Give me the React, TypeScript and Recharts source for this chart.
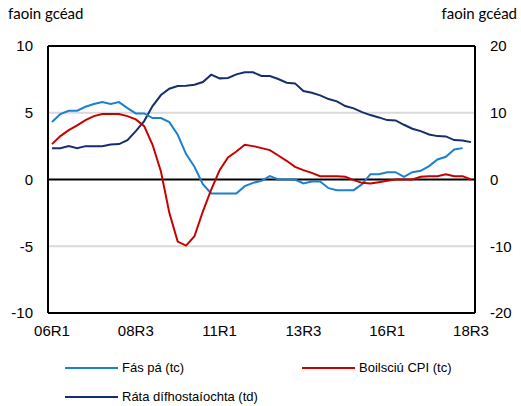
import { LineChart, Line, XAxis, YAxis, ReferenceLine } from 'recharts';

const quarters = [
    '06R1', '06R2', '06R3', '06R4', '07R1', '07R2', '07R3', '07R4',
    '08R1', '08R2', '08R3', '08R4', '09R1', '09R2', '09R3', '09R4',
    '10R1', '10R2', '10R3', '10R4', '11R1', '11R2', '11R3', '11R4',
    '12R1', '12R2', '12R3', '12R4', '13R1', '13R2', '13R3', '13R4',
    '14R1', '14R2', '14R3', '14R4', '15R1', '15R2', '15R3', '15R4',
    '16R1', '16R2', '16R3', '16R4', '17R1', '17R2', '17R3', '17R4',
    '18R1', '18R2', '18R3',
];

// Fás pá (tc) - left axis
const wageGrowth = [
    4.3, 4.9, 5.15, 5.15, 5.45, 5.65, 5.8, 5.65, 5.8, 5.35,
    4.95, 4.95, 4.6, 4.6, 4.3, 3.35, 1.9, 0.95, -0.35, -1.05,
    -1.05, -1.05, -1.05, -0.5, -0.25, -0.1, 0.25, 0, 0, 0,
    -0.3, -0.15, -0.15, -0.65, -0.8, -0.8, -0.8, -0.35, 0.4, 0.4,
    0.55, 0.55, 0.2, 0.55, 0.65, 1.0, 1.5, 1.7, 2.25, 2.35,
    null,
];

// Boilsciú CPI (tc) - left axis
const cpiInflation = [
    2.65, 3.25, 3.7, 4.05, 4.45, 4.75, 4.9, 4.9, 4.9, 4.75,
    4.5, 4.0, 2.6, 0.6, -2.5, -4.65, -4.95, -4.25, -2.4, -0.75,
    0.7, 1.65, 2.1, 2.6, 2.5, 2.35, 2.2, 1.8, 1.4, 0.95,
    0.7, 0.5, 0.25, 0.25, 0.25, 0.2, -0.05, -0.25, -0.3, -0.2,
    -0.1, 0, 0, 0, 0.2, 0.25, 0.25, 0.4, 0.25, 0.25,
    0,
];

// Ráta dífhostaíochta (td) - right axis
const unemployment = [
    4.7, 4.7, 5.0, 4.7, 5.0, 5.0, 5.0, 5.25, 5.3, 5.9,
    7.25, 8.75, 11.0, 12.65, 13.6, 14.0, 14.05, 14.2, 14.6, 15.7,
    15.15, 15.2, 15.75, 16.05, 16.05, 15.5, 15.5, 15.05, 14.5, 14.4,
    13.25, 13.0, 12.6, 12.05, 11.7, 11.0, 10.65, 10.1, 9.65, 9.3,
    8.9, 8.85, 8.2, 7.6, 7.25, 6.75, 6.5, 6.45, 5.9, 5.85,
    5.6,
];

const leftTicks = [-10, -5, 0, 5, 10];
const rightTicks = [-20, -10, 0, 10, 20];

const BLUE = '#1c80d0';
const RED = '#c80000';
const NAVY = '#142f6c';

const data = quarters.map((q, i) => ({
    q,
    wage: wageGrowth[i],
    cpi: cpiInflation[i],
    unemp: unemployment[i],
}));

const tickStyle = { fontSize: 15, fill: '#000', fontFamily: '"Liberation Sans", Arial, sans-serif' };

function LegendItem({ color, label, left, top }: { color: string; label: string; left: number; top: number }) {
    return (
        <div style={{ position: 'absolute', left, top, display: 'flex', alignItems: 'center' }}>
            <div style={{ width: 53, height: 2, background: color }} />
            <span style={{ marginLeft: 4, fontSize: 13, fontFamily: '"Liberation Sans", Arial, sans-serif', color: '#000' }}>
                {label}
            </span>
        </div>
    );
}

export default function App() {
    return (
        <div style={{ position: 'absolute', left: 0, top: 0, width: 521, height: 406, background: '#fff' }}>
            <div style={{ position: 'absolute', left: 8, top: 4, fontSize: 15, fontFamily: 'Lato, sans-serif', color: '#000' }}>
                faoin gcéad
            </div>
            <div style={{ position: 'absolute', right: 4, top: 4, fontSize: 15, fontFamily: 'Lato, sans-serif', color: '#000' }}>
                faoin gcéad
            </div>
            <LineChart width={521} height={406} data={data} margin={{ top: 46, right: 0, bottom: 63, left: 0 }}>
                <XAxis
                    dataKey="q"
                    interval={9}
                    padding={{ left: 4, right: 4 }}
                    tickLine={false}
                    axisLine={{ stroke: '#000', strokeWidth: 2 }}
                    tick={tickStyle}
                    tickMargin={6}
                    height={30}
                />
                <YAxis
                    yAxisId="left"
                    domain={[-10, 10]}
                    ticks={leftTicks}
                    tickLine={false}
                    axisLine={{ stroke: '#000', strokeWidth: 2 }}
                    tick={tickStyle}
                    tickMargin={9}
                    width={48}
                />
                <YAxis
                    yAxisId="right"
                    orientation="right"
                    domain={[-20, 20]}
                    ticks={rightTicks}
                    tickLine={false}
                    axisLine={{ stroke: '#000', strokeWidth: 2 }}
                    tick={tickStyle}
                    tickMargin={9}
                    width={46}
                />
                <ReferenceLine yAxisId="left" y={5} stroke="#d9d9d9" strokeWidth={2} />
                <ReferenceLine yAxisId="left" y={-5} stroke="#d9d9d9" strokeWidth={2} />
                <ReferenceLine yAxisId="left" y={10} stroke="#000" strokeWidth={2} />
                <ReferenceLine yAxisId="left" y={0} stroke="#000" strokeWidth={2} />
                <Line yAxisId="right" dataKey="unemp" stroke={NAVY} strokeWidth={2} dot={false} isAnimationActive={false} />
                <Line yAxisId="left" dataKey="wage" stroke={BLUE} strokeWidth={2} dot={false} isAnimationActive={false} />
                <Line yAxisId="left" dataKey="cpi" stroke={RED} strokeWidth={2} dot={false} isAnimationActive={false} />
            </LineChart>
            <LegendItem color={BLUE} label="Fás pá (tc)" left={65} top={360} />
            <LegendItem color={RED} label="Boilsciú CPI (tc)" left={302} top={360} />
            <LegendItem color={NAVY} label="Ráta dífhostaíochta (td)" left={65} top={389} />
        </div>
    );
}
